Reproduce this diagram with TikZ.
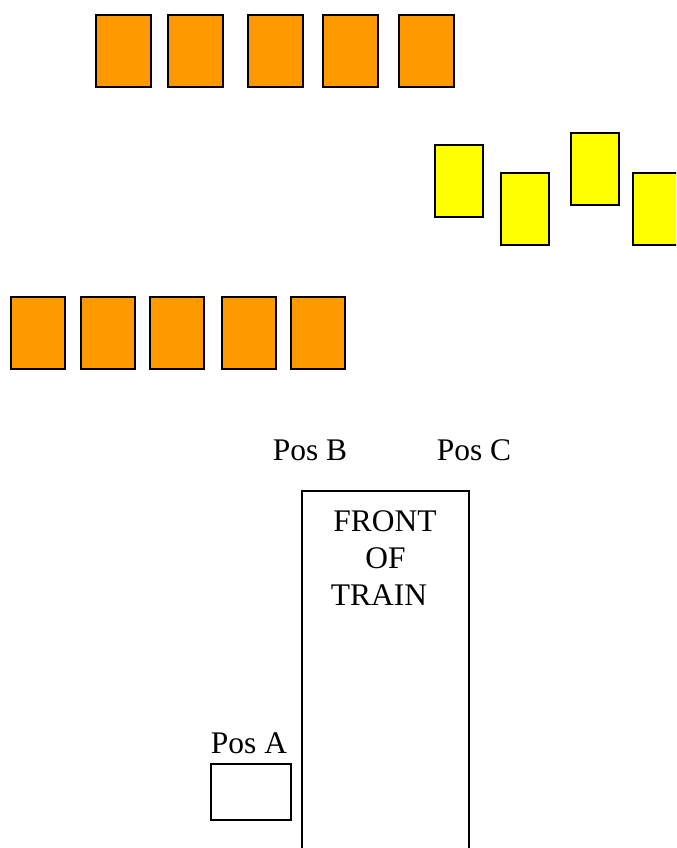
\documentclass[tikz,border=0pt]{standalone}
\usepackage{fontspec}
\setmainfont{Liberation Serif}
\definecolor{carorange}{HTML}{FF9900}
\definecolor{caryellow}{HTML}{FFFF00}
\tikzset{
  car/.style={draw, line width=1pt, fill=carorange},
  ycar/.style={draw, line width=1pt, fill=caryellow},
  lbl/.style={anchor=base, inner sep=0pt, font=\fontsize{23.6}{28}\selectfont}
}

\begin{document}
\begin{tikzpicture}[x=0.75pt,y=-0.75pt]
\clip (0,0) rectangle (676,848);
% top row of cars
\foreach \x in {96,168,248,323,399}
  \draw[car] (\x,15) rectangle ++(55,72);
% yellow cars, staggered
\draw[ycar] (435,145) rectangle (483,217);
\draw[ycar] (501,173) rectangle (549,245);
\draw[ycar] (571,133) rectangle (619,205);
\draw[ycar] (633,173) rectangle (681,245);
% bottom row of cars
\foreach \x in {11,81,150,222,291}
  \draw[car] (\x,297) rectangle ++(54,72);
% train and positions
\draw[line width=0.9pt] (302,491) rectangle (469,900);
\node[lbl] (front) at (385,531.5) {FRONT};
\node[lbl] (of) at (385.5,568.5) {OF};
\node[lbl] (train) at (379,605) {TRAIN};
\node[lbl] (posb) at (310,460) {Pos B};
\node[lbl] (posc) at (474,460) {Pos C};
\node[lbl] (posa) at (249,753.5) {Pos A};
\draw[line width=0.9pt] (211,764) rectangle (291,820);
\end{tikzpicture}
\end{document}
